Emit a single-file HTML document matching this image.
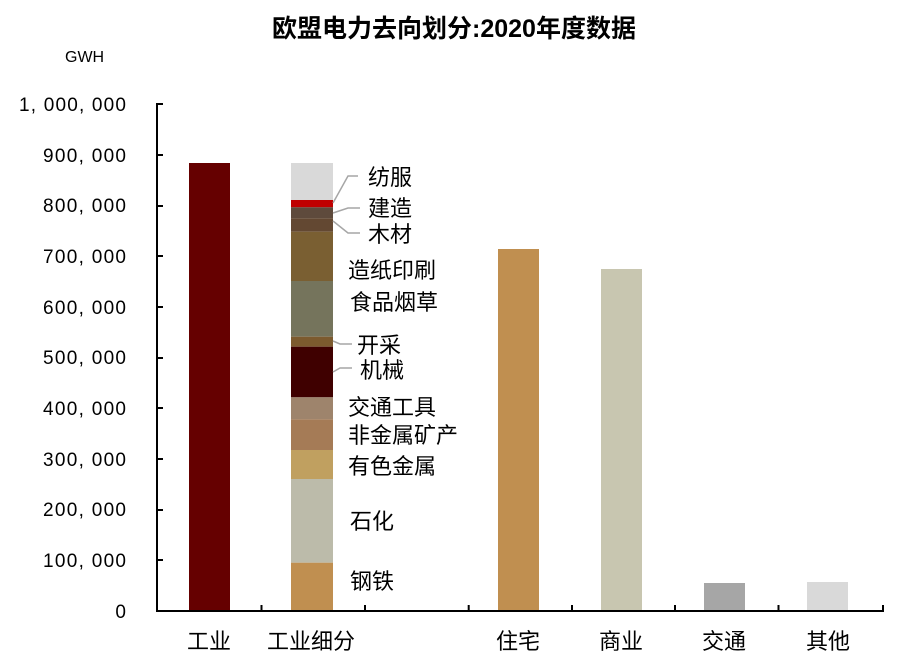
<!DOCTYPE html>
<html><head><meta charset="utf-8"><style>
body{margin:0;background:#fff}
text{font-family:"Liberation Sans","Noto Sans CJK SC",sans-serif;fill:#000}
</style></head><body>
<svg width="908" height="666" xmlns="http://www.w3.org/2000/svg">
<text x="454" y="37" font-size="25" font-weight="bold" text-anchor="middle">欧盟电力去向划分:2020年度数据</text>
<text x="65" y="62" font-size="16">GWH</text>
<g font-size="19" text-anchor="end">
<text x="126" y="111" textLength="107">1, 000, 000</text>
<text x="126" y="162" textLength="83">900, 000</text>
<text x="126" y="212" textLength="83">800, 000</text>
<text x="126" y="263" textLength="83">700, 000</text>
<text x="126" y="314" textLength="83">600, 000</text>
<text x="126" y="364" textLength="83">500, 000</text>
<text x="126" y="415" textLength="83">400, 000</text>
<text x="126" y="466" textLength="83">300, 000</text>
<text x="126" y="516" textLength="83">200, 000</text>
<text x="126" y="567" textLength="83">100, 000</text>
<text x="126" y="618">0</text>
</g>
<g stroke="#000" stroke-width="2">
<line x1="157" y1="103" x2="157" y2="611"/>
<line x1="156" y1="611" x2="884" y2="611"/>
<path d="M157 104h6M157 155h6M157 206h6M157 256h6M157 307h6M157 358h6M157 408h6M157 459h6M157 510h6M157 560h6"/>
<path d="M261.5 611v-6M365 611v-6M468.7 611v-6M572 611v-6M675 611v-6M778.5 611v-6M883 611v-6"/>
</g>
<rect x="189" y="163" width="41" height="447" fill="#650000"/>
<rect x="498" y="249" width="41" height="361" fill="#c08f50"/>
<rect x="601" y="269" width="41" height="341" fill="#c8c6b0"/>
<rect x="704" y="583" width="41" height="27" fill="#a6a6a6"/>
<rect x="807" y="582" width="41" height="28" fill="#d9d9d9"/>
<g>
<rect x="291" y="163" width="42" height="37" fill="#d9d9d9"/>
<rect x="291" y="200" width="42" height="7.3" fill="#c00000"/>
<rect x="291" y="207.3" width="42" height="11" fill="#5e4a3c"/>
<rect x="291" y="218.3" width="42" height="13.4" fill="#634832"/>
<rect x="291" y="231.7" width="42" height="49.3" fill="#7a5f32"/>
<rect x="291" y="281" width="42" height="55.7" fill="#75745c"/>
<rect x="291" y="336.7" width="42" height="10" fill="#7c5a2e"/>
<rect x="291" y="346.7" width="42" height="50.6" fill="#3f0000"/>
<rect x="291" y="397.3" width="42" height="22" fill="#9e846c"/>
<rect x="291" y="419.3" width="42" height="30.7" fill="#a57b56"/>
<rect x="291" y="450" width="42" height="29" fill="#c0a060"/>
<rect x="291" y="479" width="42" height="83.7" fill="#bcbbaa"/>
<rect x="291" y="562.7" width="42" height="47.3" fill="#c08f50"/>
</g>
<g stroke="#a6a6a6" stroke-width="1.5" fill="none">
<path d="M333 203L348 176H358"/>
<path d="M333 213L348 208H360"/>
<path d="M333 221L348 233H360"/>
<path d="M333 341L340 344H352"/>
<path d="M333 372L340 368H352"/>
</g>
<g font-size="22">
<text x="368" y="185">纺服</text>
<text x="368" y="216">建造</text>
<text x="368" y="242">木材</text>
<text x="348" y="278">造纸印刷</text>
<text x="350" y="310">食品烟草</text>
<text x="357" y="353">开采</text>
<text x="360" y="378">机械</text>
<text x="348" y="415">交通工具</text>
<text x="348" y="443">非金属矿产</text>
<text x="348" y="474">有色金属</text>
<text x="350" y="529">石化</text>
<text x="350" y="589">钢铁</text>
</g>
<g font-size="22" text-anchor="middle">
<text x="209" y="649">工业</text>
<text x="311" y="649">工业细分</text>
<text x="518" y="649">住宅</text>
<text x="621" y="649">商业</text>
<text x="724" y="649">交通</text>
<text x="828" y="649">其他</text>
</g>
</svg>
</body></html>
